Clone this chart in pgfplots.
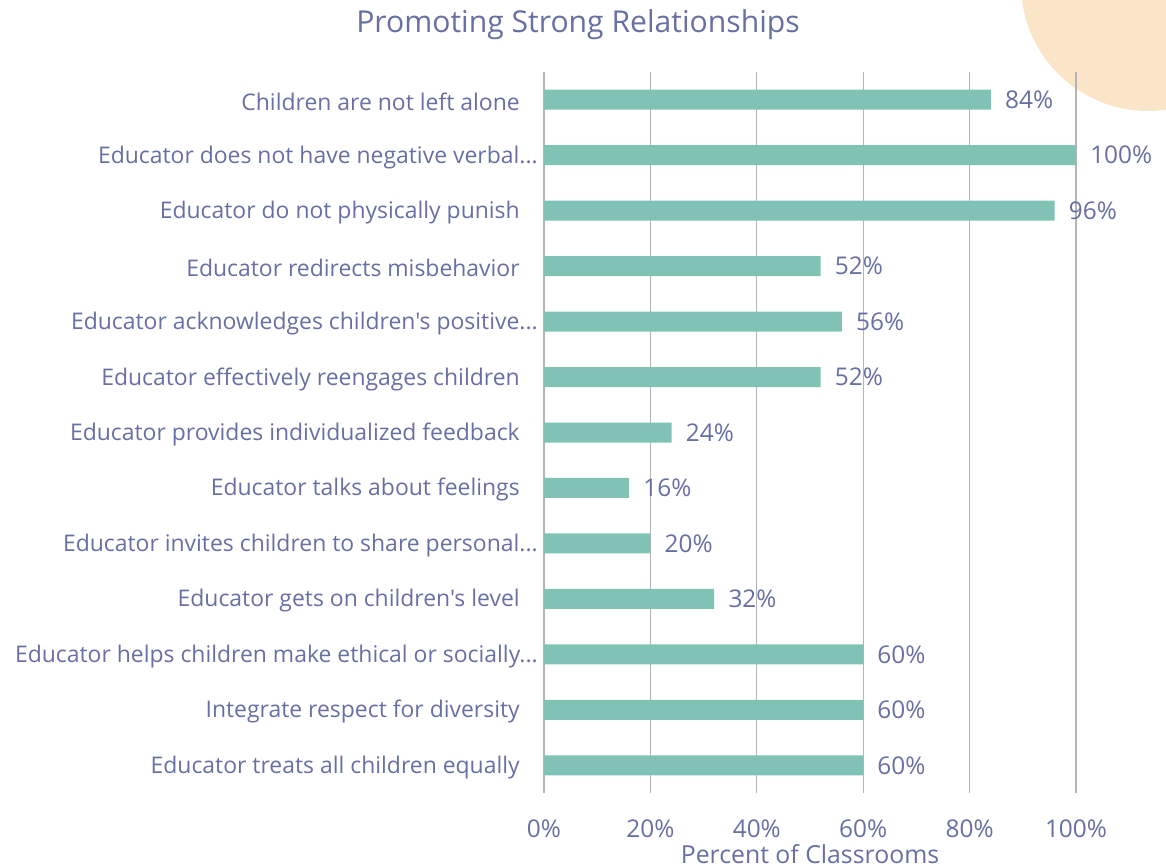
\documentclass[border=0pt]{standalone}
\usepackage{fontspec}
\setmainfont{Open Sans}[Ligatures=TeXOff]
\usepackage{pgfplots}
\pgfplotsset{compat=1.18}
\definecolor{txt}{HTML}{676FA3}
\definecolor{barc}{HTML}{80C3B4}
\definecolor{peach}{HTML}{FBE5C8}
\definecolor{gridc}{HTML}{B4B4B4}
\newcommand{\pad}{\kern13.5pt\relax}
\newcommand{\el}{...}
\begin{document}
\begin{tikzpicture}
\path[use as bounding box] (0pt,0pt) rectangle (874.5pt,650.25pt);
\begin{scope}
\clip (0pt,0pt) rectangle (874.5pt,650.25pt);
\fill[peach] (861pt,662.25pt) circle[radius=95.25pt];
\end{scope}
\begin{axis}[
  at={(408pt,55.5pt)}, anchor=south west,
  scale only axis, width=399pt, height=540.75pt,
  xmin=0, xmax=100, ymin=-0.5, ymax=12.5, y dir=reverse,
  xbar, bar width=15pt,
  axis line style={draw=none},
  major tick length=0pt,
  xtick={0,20,40,60,80,100},
  xmajorgrids, grid style={gridc, line width=0.8pt},
  xticklabel={\pgfmathprintnumber{\tick}\%},
  /pgf/number format/assume math mode=true,
  xticklabel style={font=\fontsize{18.3}{21}\selectfont, text=txt, anchor=base, inner sep=0pt, yshift=-33pt},
  ytick={0,1,2,3,4,5,6,7,8,9,10,11,12},
  yticklabels={
    {Children are not left alone\pad},
    {Educator does not have negative verbal\el},
    {Educator do not physically punish\pad},
    {Educator redirects misbehavior\pad},
    {Educator acknowledges children's positive\el},
    {Educator effectively reengages children\pad},
    {Educator provides individualized feedback\pad},
    {Educator talks about feelings\pad},
    {Educator invites children to share personal\el},
    {Educator gets on children's level\pad},
    {Educator helps children make ethical or socially\el},
    {Integrate respect for diversity\pad},
    {Educator treats all children equally\pad}},
  yticklabel style={font=\fontsize{17.2}{20}\selectfont, text=txt, anchor=east, inner sep=0pt, xshift=-4.5pt, yshift=-1.5pt},
  nodes near coords={\pgfmathprintnumber{\pgfplotspointmeta}\%},
  nodes near coords style={font=\fontsize{18.3}{21}\selectfont, text=txt, anchor=west, inner sep=0pt, xshift=10.5pt},
  clip=false,
]
\addplot[draw=none, fill=barc] coordinates {
  (84,0) (100,1) (96,2) (52,3) (56,4) (52,5) (24,6)
  (16,7) (20,8) (32,9) (60,10) (60,11) (60,12)};
\end{axis}
\node[anchor=base, text=txt, font=\fontsize{22.6}{26}\selectfont] at (433.5pt,626pt) {Promoting Strong Relationships};
\node[anchor=base, text=txt, font=\fontsize{18.6}{21}\selectfont] at (607.5pt,3pt) {Percent of Classrooms};
\end{tikzpicture}
\end{document}
